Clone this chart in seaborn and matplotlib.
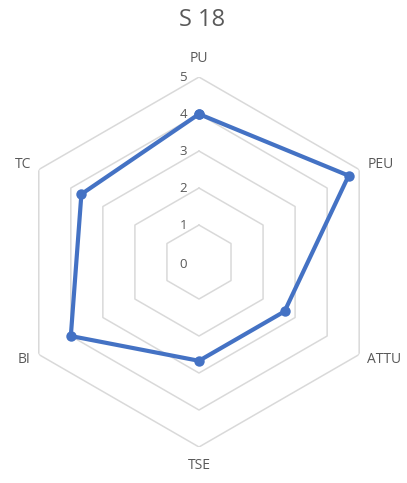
import numpy as np
import pandas as pd
import matplotlib
matplotlib.use("Agg")
import matplotlib.pyplot as plt
import seaborn as sns

# Construct scores (mean of item ratings, 0-5 scale)
categories = ["PU", "PEU", "ATTU", "TSE", "BI", "TC"]
scores = [4.0, 4.67, 2.67, 2.67, 4.0, 3.67]
tick_values = [0, 1, 2, 3, 4, 5]
title = "S 18"

sns.set_theme(style="white")
plt.rcParams["font.family"] = ["Open Sans", "DejaVu Sans"]

label_color = "#595959"
grid_color = "#D9D9D9"
line_color = "#4472C4"

fig = plt.figure(figsize=(4.07, 4.83), dpi=100)
ax = fig.add_axes([0.0344, 0.0745, 0.909, 0.766], projection="polar")
ax.set_theta_zero_location("N")
ax.set_theta_direction(-1)

n = len(categories)
angles = np.linspace(0, 2 * np.pi, n, endpoint=False)
closed_angles = np.append(angles, 2 * np.pi)

# hexagonal grid rings
for v in tick_values[1:]:
    ax.plot(closed_angles, [v] * (n + 1), color=grid_color, lw=1.1, zorder=1)

# data polygon (closed back to the first axis)
df = pd.DataFrame({"angle": closed_angles,
                   "score": scores + scores[:1]})
sns.lineplot(data=df, x="angle", y="score", sort=False, estimator=None,
             ax=ax, color=line_color, lw=3.0, marker="o", markersize=7.5,
             markeredgewidth=0, zorder=3)

ax.set_ylim(0, 5)
ax.set_xticks([])
ax.set_yticks([])
ax.grid(False)
ax.spines["polar"].set_visible(False)
ax.set_xlabel("")
ax.set_ylabel("")
ax.patch.set_alpha(0)

# radial tick labels along the first axis
for v in tick_values:
    ax.annotate(str(v), xy=(0, v), xytext=(-12, -2 if v == 0 else 0),
                textcoords="offset pixels", ha="right", va="center",
                fontsize=9.5, color=label_color)

# category labels
for a, lab in zip(angles, categories):
    s = np.sin(a)
    if abs(s) < 0.1:
        ha = "center"
    elif s > 0:
        ha = "left"
    else:
        ha = "right"
    r = 5.5 if abs(s) < 0.1 else 5.25
    ax.text(a, r, lab, ha=ha, va="center", fontsize=10, color=label_color)

fig.suptitle(title, x=0.497, y=0.958, va="center", fontsize=17,
             color=label_color)

fig.savefig("out.png", dpi=100, facecolor="white")
